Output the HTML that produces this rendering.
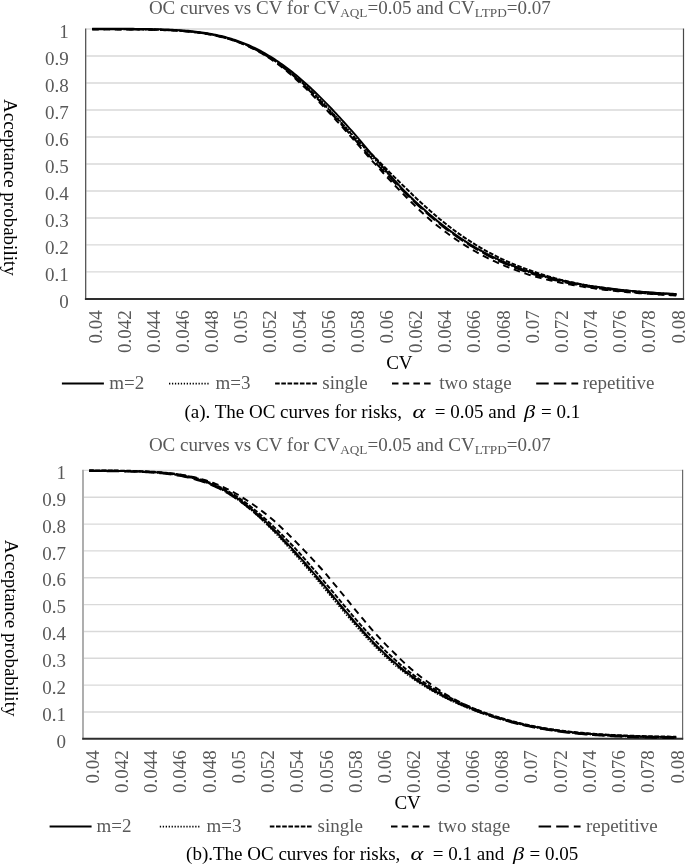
<!DOCTYPE html>
<html><head><meta charset="utf-8"><style>
html,body{margin:0;padding:0;background:#fff;}
svg{display:block;will-change:transform;}
text{font-family:"Liberation Serif", serif;font-size:19px;}
</style></head><body>
<svg width="685" height="865" viewBox="0 0 685 865">
<rect width="685" height="865" fill="#fff"/>
<line x1="86.3" y1="271.91" x2="682.9" y2="271.91" stroke="#d9d9d9" stroke-width="1.4"/>
<line x1="86.3" y1="244.92" x2="682.9" y2="244.92" stroke="#d9d9d9" stroke-width="1.4"/>
<line x1="86.3" y1="217.93" x2="682.9" y2="217.93" stroke="#d9d9d9" stroke-width="1.4"/>
<line x1="86.3" y1="190.94" x2="682.9" y2="190.94" stroke="#d9d9d9" stroke-width="1.4"/>
<line x1="86.3" y1="163.95" x2="682.9" y2="163.95" stroke="#d9d9d9" stroke-width="1.4"/>
<line x1="86.3" y1="136.96" x2="682.9" y2="136.96" stroke="#d9d9d9" stroke-width="1.4"/>
<line x1="86.3" y1="109.97" x2="682.9" y2="109.97" stroke="#d9d9d9" stroke-width="1.4"/>
<line x1="86.3" y1="82.98" x2="682.9" y2="82.98" stroke="#d9d9d9" stroke-width="1.4"/>
<line x1="86.3" y1="55.99" x2="682.9" y2="55.99" stroke="#d9d9d9" stroke-width="1.4"/>
<line x1="86.3" y1="29.00" x2="682.9" y2="29.00" stroke="#d9d9d9" stroke-width="1.4"/>
<line x1="85.7" y1="28.40" x2="85.7" y2="299.70" stroke="#484848" stroke-width="1.2"/>
<line x1="683.5" y1="28.40" x2="683.5" y2="299.70" stroke="#484848" stroke-width="1.2"/>
<line x1="84.9" y1="298.90" x2="684.1" y2="298.90" stroke="#2e2e2e" stroke-width="2"/>
<text x="68.8" y="307.50" text-anchor="end" fill="#595959">0</text>
<text x="68.8" y="280.51" text-anchor="end" fill="#595959">0.1</text>
<text x="68.8" y="253.52" text-anchor="end" fill="#595959">0.2</text>
<text x="68.8" y="226.53" text-anchor="end" fill="#595959">0.3</text>
<text x="68.8" y="199.54" text-anchor="end" fill="#595959">0.4</text>
<text x="68.8" y="172.55" text-anchor="end" fill="#595959">0.5</text>
<text x="68.8" y="145.56" text-anchor="end" fill="#595959">0.6</text>
<text x="68.8" y="118.57" text-anchor="end" fill="#595959">0.7</text>
<text x="68.8" y="91.58" text-anchor="end" fill="#595959">0.8</text>
<text x="68.8" y="64.59" text-anchor="end" fill="#595959">0.9</text>
<text x="68.8" y="37.60" text-anchor="end" fill="#595959">1</text>
<text transform="translate(101.50,310.3) rotate(-90)" text-anchor="end" fill="#595959">0.04</text>
<text transform="translate(130.65,310.3) rotate(-90)" text-anchor="end" fill="#595959">0.042</text>
<text transform="translate(159.80,310.3) rotate(-90)" text-anchor="end" fill="#595959">0.044</text>
<text transform="translate(188.95,310.3) rotate(-90)" text-anchor="end" fill="#595959">0.046</text>
<text transform="translate(218.10,310.3) rotate(-90)" text-anchor="end" fill="#595959">0.048</text>
<text transform="translate(247.25,310.3) rotate(-90)" text-anchor="end" fill="#595959">0.05</text>
<text transform="translate(276.40,310.3) rotate(-90)" text-anchor="end" fill="#595959">0.052</text>
<text transform="translate(305.55,310.3) rotate(-90)" text-anchor="end" fill="#595959">0.054</text>
<text transform="translate(334.70,310.3) rotate(-90)" text-anchor="end" fill="#595959">0.056</text>
<text transform="translate(363.85,310.3) rotate(-90)" text-anchor="end" fill="#595959">0.058</text>
<text transform="translate(393.00,310.3) rotate(-90)" text-anchor="end" fill="#595959">0.06</text>
<text transform="translate(422.15,310.3) rotate(-90)" text-anchor="end" fill="#595959">0.062</text>
<text transform="translate(451.30,310.3) rotate(-90)" text-anchor="end" fill="#595959">0.064</text>
<text transform="translate(480.45,310.3) rotate(-90)" text-anchor="end" fill="#595959">0.066</text>
<text transform="translate(509.60,310.3) rotate(-90)" text-anchor="end" fill="#595959">0.068</text>
<text transform="translate(538.75,310.3) rotate(-90)" text-anchor="end" fill="#595959">0.07</text>
<text transform="translate(567.90,310.3) rotate(-90)" text-anchor="end" fill="#595959">0.072</text>
<text transform="translate(597.05,310.3) rotate(-90)" text-anchor="end" fill="#595959">0.074</text>
<text transform="translate(626.20,310.3) rotate(-90)" text-anchor="end" fill="#595959">0.076</text>
<text transform="translate(655.35,310.3) rotate(-90)" text-anchor="end" fill="#595959">0.078</text>
<text transform="translate(684.50,310.3) rotate(-90)" text-anchor="end" fill="#595959">0.08</text>
<path d="M92.20,29.41 L94.15,29.41 L96.11,29.41 L98.06,29.41 L100.02,29.42 L101.97,29.42 L103.92,29.42 L105.88,29.42 L107.83,29.43 L109.79,29.43 L111.74,29.43 L113.69,29.44 L115.65,29.45 L117.60,29.45 L119.56,29.46 L121.51,29.47 L123.46,29.48 L125.42,29.49 L127.37,29.50 L129.33,29.51 L131.28,29.52 L133.23,29.54 L135.19,29.56 L137.14,29.57 L139.10,29.60 L141.05,29.62 L143.00,29.64 L144.96,29.67 L146.91,29.70 L148.86,29.74 L150.82,29.78 L152.77,29.82 L154.72,29.86 L156.68,29.91 L158.63,29.97 L160.58,30.02 L162.54,30.09 L164.49,30.16 L166.44,30.23 L168.40,30.32 L170.35,30.40 L172.30,30.50 L174.25,30.61 L176.21,30.72 L178.16,30.84 L180.11,30.97 L182.06,31.11 L184.01,31.26 L185.96,31.42 L187.92,31.59 L189.87,31.78 L191.82,31.98 L193.77,32.19 L195.72,32.41 L197.67,32.65 L199.62,32.91 L201.57,33.18 L203.52,33.47 L205.47,33.78 L207.42,34.10 L209.37,34.44 L211.32,34.81 L213.26,35.19 L215.21,35.59 L217.16,36.02 L219.11,36.47 L221.05,36.94 L223.00,37.43 L224.95,37.96 L226.89,38.50 L228.84,39.07 L230.78,39.67 L232.73,40.30 L234.67,40.95 L236.62,41.63 L238.56,42.34 L240.50,43.09 L242.44,43.87 L244.38,44.68 L246.31,45.53 L248.25,46.40 L250.18,47.31 L252.12,48.25 L254.05,49.23 L255.98,50.24 L257.91,51.28 L259.84,52.36 L261.77,53.47 L263.70,54.61 L265.62,55.79 L267.55,57.00 L269.47,58.26 L271.38,59.55 L273.30,60.88 L275.22,62.24 L277.13,63.63 L279.04,65.06 L280.95,66.52 L282.86,68.02 L284.77,69.55 L286.68,71.11 L288.58,72.71 L290.49,74.34 L292.39,75.99 L294.30,77.69 L296.20,79.41 L298.10,81.16 L300.00,82.94 L301.90,84.74 L303.82,86.56 L305.74,88.40 L307.66,90.27 L309.58,92.16 L311.50,94.08 L313.42,96.02 L315.34,97.98 L317.26,99.97 L319.18,101.98 L321.10,104.01 L323.02,106.06 L324.94,108.13 L326.86,110.21 L328.78,112.30 L330.73,114.39 L332.68,116.50 L334.63,118.62 L336.58,120.75 L338.53,122.89 L340.48,125.04 L342.43,127.20 L344.38,129.37 L346.34,131.54 L348.29,133.72 L350.24,135.91 L352.19,138.09 L354.13,140.30 L356.07,142.51 L358.01,144.72 L359.94,146.93 L361.88,149.13 L363.82,151.34 L365.76,153.54 L367.69,155.74 L369.63,157.93 L371.57,160.11 L373.51,162.29 L375.45,164.46 L377.39,166.62 L379.34,168.77 L381.29,170.91 L383.24,173.03 L385.19,175.14 L387.14,177.24 L389.09,179.33 L391.04,181.40 L392.99,183.46 L394.94,185.50 L396.89,187.52 L398.84,189.53 L400.80,191.53 L402.74,193.51 L404.67,195.49 L406.59,197.46 L408.52,199.41 L410.45,201.34 L412.38,203.25 L414.31,205.14 L416.24,207.00 L418.17,208.85 L420.11,210.68 L422.04,212.48 L423.98,214.26 L425.92,216.02 L427.86,217.76 L429.80,219.47 L431.75,221.16 L433.73,222.78 L435.72,224.38 L437.70,225.96 L439.68,227.51 L441.66,229.04 L443.65,230.55 L445.63,232.04 L447.61,233.50 L449.60,234.94 L451.58,236.35 L453.57,237.74 L455.55,239.11 L457.53,240.46 L459.52,241.78 L461.50,243.08 L463.48,244.36 L465.47,245.62 L467.45,246.85 L469.44,248.06 L471.43,249.23 L473.42,250.39 L475.41,251.52 L477.41,252.63 L479.40,253.71 L481.39,254.78 L483.38,255.83 L485.37,256.85 L487.36,257.86 L489.35,258.84 L491.33,259.81 L493.32,260.75 L495.31,261.68 L497.29,262.58 L499.28,263.47 L501.27,264.34 L503.25,265.19 L505.23,266.03 L507.22,266.84 L509.20,267.64 L511.18,268.42 L513.17,269.18 L515.15,269.93 L517.13,270.66 L519.11,271.38 L521.09,272.08 L523.07,272.76 L525.05,273.43 L527.03,274.08 L529.01,274.72 L530.99,275.31 L532.98,275.89 L534.96,276.46 L536.95,277.01 L538.93,277.55 L540.91,278.07 L542.89,278.59 L544.87,279.09 L546.85,279.58 L548.83,280.06 L550.81,280.53 L552.79,280.98 L554.76,281.43 L556.74,281.86 L558.71,282.29 L560.68,282.70 L562.66,283.10 L564.63,283.50 L566.60,283.88 L568.57,284.26 L570.54,284.63 L572.51,284.98 L574.48,285.33 L576.45,285.67 L578.42,286.01 L580.38,286.33 L582.35,286.65 L584.32,286.95 L586.28,287.25 L588.25,287.55 L590.21,287.84 L592.18,288.12 L594.14,288.40 L596.11,288.67 L598.07,288.93 L600.03,289.19 L601.99,289.43 L603.96,289.68 L605.92,289.92 L607.88,290.15 L609.84,290.37 L611.80,290.59 L613.76,290.81 L615.72,291.02 L617.68,291.22 L619.64,291.42 L621.60,291.61 L623.56,291.80 L625.52,291.99 L627.48,292.17 L629.44,292.34 L631.40,292.52 L633.36,292.68 L635.32,292.85 L637.28,293.00 L639.24,293.16 L641.19,293.31 L643.15,293.46 L645.11,293.60 L647.07,293.74 L649.03,293.88 L650.98,294.01 L652.94,294.14 L654.90,294.27 L656.86,294.39 L658.81,294.51 L660.77,294.63 L662.73,294.75 L664.68,294.86 L666.64,294.97 L668.60,295.07 L670.55,295.18 L672.51,295.28 L674.47,295.38 L676.42,295.48" fill="none" stroke="#000" stroke-width="1.95" stroke-linejoin="round" stroke-dasharray="6.6 4.7"/>
<path d="M92.20,29.31 L94.15,29.31 L96.11,29.31 L98.06,29.31 L100.02,29.32 L101.97,29.32 L103.92,29.32 L105.88,29.32 L107.83,29.33 L109.79,29.33 L111.74,29.33 L113.70,29.34 L115.65,29.35 L117.60,29.35 L119.56,29.36 L121.51,29.37 L123.47,29.38 L125.42,29.38 L127.37,29.40 L129.33,29.41 L131.28,29.42 L133.24,29.44 L135.19,29.45 L137.14,29.47 L139.10,29.49 L141.05,29.52 L143.00,29.54 L144.96,29.57 L146.91,29.60 L148.87,29.64 L150.82,29.67 L152.77,29.71 L154.73,29.76 L156.68,29.81 L158.63,29.86 L160.59,29.92 L162.54,29.98 L164.49,30.05 L166.45,30.13 L168.40,30.21 L170.35,30.30 L172.31,30.39 L174.26,30.50 L176.21,30.61 L178.16,30.73 L180.12,30.86 L182.07,31.00 L184.02,31.15 L185.97,31.31 L187.93,31.48 L189.88,31.66 L191.83,31.86 L193.78,32.07 L195.73,32.29 L197.69,32.53 L199.64,32.78 L201.59,33.05 L203.54,33.34 L205.49,33.65 L207.44,33.97 L209.39,34.31 L211.34,34.67 L213.29,35.05 L215.24,35.45 L217.19,35.87 L219.14,36.32 L221.09,36.79 L223.04,37.28 L224.99,37.80 L226.94,38.34 L228.89,38.91 L230.84,39.50 L232.78,40.13 L234.73,40.78 L236.68,41.45 L238.63,42.16 L240.57,42.90 L242.52,43.67 L244.46,44.47 L246.41,45.31 L248.35,46.18 L250.29,47.07 L252.24,48.01 L254.18,48.97 L256.12,49.97 L258.06,51.00 L260.00,52.06 L261.94,53.16 L263.88,54.29 L265.82,55.46 L267.76,56.66 L269.70,57.90 L271.64,59.17 L273.57,60.47 L275.51,61.81 L277.44,63.18 L279.38,64.59 L281.32,66.03 L283.25,67.51 L285.18,69.01 L287.12,70.55 L289.05,72.13 L290.98,73.73 L292.92,75.37 L294.85,77.04 L296.78,78.73 L298.71,80.46 L300.64,82.22 L302.57,84.01 L304.50,85.83 L306.42,87.67 L308.35,89.54 L310.27,91.44 L312.20,93.36 L314.12,95.31 L316.05,97.28 L317.97,99.27 L319.89,101.28 L321.82,103.32 L323.74,105.37 L325.66,107.44 L327.58,109.53 L329.51,111.62 L331.47,113.71 L333.42,115.82 L335.37,117.94 L337.32,120.07 L339.27,122.21 L341.22,124.37 L343.18,126.53 L345.13,128.70 L347.08,130.87 L349.03,133.05 L350.99,135.24 L352.94,137.43 L354.89,139.62 L356.85,141.81 L358.80,144.01 L360.76,146.20 L362.71,148.39 L364.67,150.58 L366.62,152.76 L368.58,154.94 L370.53,157.12 L372.49,159.29 L374.45,161.45 L376.40,163.60 L378.37,165.73 L380.35,167.84 L382.34,169.93 L384.33,172.02 L386.31,174.09 L388.30,176.15 L390.28,178.19 L392.27,180.23 L394.25,182.24 L396.23,184.24 L398.22,186.23 L400.20,188.19 L402.19,190.14 L404.16,192.08 L406.12,194.02 L408.08,195.94 L410.04,197.84 L411.99,199.72 L413.95,201.58 L415.91,203.42 L417.87,205.24 L419.83,207.04 L421.79,208.81 L423.75,210.57 L425.70,212.30 L427.66,214.01 L429.62,215.70 L431.58,217.36 L433.54,219.01 L435.50,220.63 L437.46,222.22 L439.42,223.80 L441.38,225.35 L443.34,226.88 L445.30,228.38 L447.26,229.86 L449.22,231.32 L451.18,232.75 L453.14,234.17 L455.10,235.55 L457.06,236.92 L459.02,238.26 L460.99,239.58 L462.95,240.88 L464.91,242.15 L466.87,243.41 L468.83,244.63 L470.79,245.84 L472.75,247.04 L474.70,248.21 L476.66,249.36 L478.62,250.48 L480.58,251.59 L482.53,252.67 L484.49,253.74 L486.45,254.78 L488.41,255.80 L490.37,256.81 L492.33,257.79 L494.29,258.75 L496.24,259.70 L498.20,260.62 L500.16,261.53 L502.12,262.41 L504.08,263.28 L506.04,264.13 L508.00,264.96 L509.96,265.78 L511.92,266.57 L513.88,267.35 L515.84,268.12 L517.80,268.86 L519.76,269.59 L521.72,270.30 L523.68,271.00 L525.64,271.68 L527.60,272.35 L529.56,273.00 L531.53,273.64 L533.49,274.26 L535.45,274.86 L537.41,275.45 L539.37,276.03 L541.33,276.59 L543.29,277.14 L545.26,277.68 L547.22,278.21 L549.18,278.72 L551.14,279.22 L553.10,279.71 L555.06,280.19 L557.02,280.66 L558.98,281.11 L560.94,281.56 L562.90,281.99 L564.86,282.42 L566.82,282.83 L568.78,283.23 L570.74,283.63 L572.70,284.01 L574.66,284.39 L576.62,284.75 L578.58,285.11 L580.54,285.46 L582.50,285.80 L584.46,286.13 L586.41,286.45 L588.37,286.77 L590.33,287.08 L592.29,287.39 L594.25,287.69 L596.20,287.98 L598.16,288.26 L600.12,288.53 L602.08,288.80 L604.04,289.06 L605.99,289.32 L607.95,289.57 L609.91,289.81 L611.87,290.05 L613.82,290.28 L615.78,290.51 L617.74,290.73 L619.70,290.94 L621.65,291.15 L623.61,291.35 L625.57,291.55 L627.52,291.75 L629.48,291.94 L631.44,292.12 L633.39,292.30 L635.35,292.48 L637.31,292.65 L639.26,292.82 L641.22,292.98 L643.18,293.14 L645.13,293.29 L647.09,293.44 L649.05,293.59 L651.00,293.74 L652.96,293.88 L654.92,294.01 L656.87,294.15 L658.83,294.28 L660.78,294.40 L662.74,294.53 L664.70,294.65 L666.65,294.77 L668.61,294.88 L670.56,294.99 L672.52,295.10 L674.48,295.21 L676.43,295.32" fill="none" stroke="#000" stroke-width="1.95" stroke-linejoin="round" stroke-dasharray="12.5 5"/>
<path d="M92.20,29.11 L94.15,29.11 L96.11,29.11 L98.06,29.11 L100.02,29.12 L101.97,29.12 L103.92,29.12 L105.88,29.12 L107.83,29.13 L109.79,29.13 L111.74,29.13 L113.70,29.14 L115.65,29.15 L117.60,29.15 L119.56,29.16 L121.51,29.17 L123.47,29.18 L125.42,29.18 L127.37,29.20 L129.33,29.21 L131.28,29.22 L133.24,29.24 L135.19,29.25 L137.15,29.27 L139.10,29.29 L141.05,29.32 L143.01,29.34 L144.96,29.37 L146.92,29.40 L148.87,29.44 L150.82,29.47 L152.78,29.51 L154.73,29.56 L156.69,29.61 L158.64,29.66 L160.59,29.72 L162.55,29.78 L164.50,29.85 L166.45,29.93 L168.41,30.01 L170.36,30.10 L172.32,30.19 L174.27,30.30 L176.22,30.41 L178.18,30.53 L180.13,30.66 L182.08,30.80 L184.04,30.95 L185.99,31.11 L187.94,31.28 L189.90,31.46 L191.85,31.66 L193.80,31.87 L195.76,32.09 L197.71,32.33 L199.66,32.59 L201.62,32.86 L203.57,33.14 L205.52,33.45 L207.47,33.77 L209.43,34.11 L211.38,34.47 L213.33,34.85 L215.28,35.25 L217.24,35.68 L219.19,36.12 L221.14,36.59 L223.09,37.09 L225.04,37.61 L226.99,38.15 L228.94,38.72 L230.89,39.31 L232.85,39.94 L234.80,40.59 L236.75,41.27 L238.70,41.97 L240.65,42.71 L242.60,43.47 L244.55,44.27 L246.50,45.09 L248.45,45.95 L250.40,46.84 L252.36,47.76 L254.31,48.71 L256.26,49.70 L258.21,50.72 L260.16,51.77 L262.12,52.85 L264.07,53.98 L266.02,55.13 L267.97,56.32 L269.92,57.55 L271.87,58.81 L273.82,60.10 L275.77,61.43 L277.72,62.80 L279.67,64.20 L281.62,65.63 L283.56,67.09 L285.51,68.59 L287.46,70.12 L289.41,71.68 L291.36,73.28 L293.31,74.90 L295.26,76.56 L297.20,78.25 L299.15,79.97 L301.10,81.71 L303.05,83.49 L304.99,85.30 L306.93,87.13 L308.88,88.99 L310.82,90.88 L312.76,92.79 L314.71,94.72 L316.65,96.68 L318.59,98.66 L320.53,100.66 L322.47,102.68 L324.42,104.72 L326.36,106.78 L328.30,108.85 L330.24,110.94 L332.20,113.03 L334.15,115.14 L336.10,117.26 L338.06,119.40 L340.01,121.54 L341.96,123.70 L343.92,125.86 L345.87,128.03 L347.83,130.21 L349.78,132.39 L351.73,134.57 L353.69,136.76 L355.76,138.85 L357.86,140.91 L359.97,142.97 L362.07,145.03 L364.18,147.08 L366.28,149.13 L368.39,151.18 L370.49,153.22 L372.59,155.26 L374.70,157.29 L376.80,159.31 L378.90,161.33 L380.96,163.36 L382.97,165.43 L384.98,167.49 L386.99,169.55 L388.99,171.58 L391.00,173.61 L393.00,175.62 L395.00,177.61 L397.01,179.59 L399.01,181.55 L401.01,183.50 L403.00,185.43 L405.00,187.34 L406.98,189.24 L408.93,191.17 L410.87,193.07 L412.82,194.96 L414.76,196.83 L416.70,198.67 L418.64,200.50 L420.58,202.30 L422.52,204.08 L424.47,205.84 L426.41,207.58 L428.35,209.30 L430.28,210.99 L432.22,212.66 L434.16,214.31 L436.10,215.94 L438.02,217.56 L439.94,219.16 L441.86,220.74 L443.78,222.30 L445.70,223.83 L447.62,225.34 L449.54,226.83 L451.46,228.29 L453.38,229.73 L455.30,231.14 L457.22,232.54 L459.15,233.91 L461.07,235.25 L462.99,236.58 L464.91,237.88 L466.84,239.15 L468.76,240.41 L470.69,241.64 L472.61,242.86 L474.53,244.06 L476.44,245.25 L478.36,246.41 L480.27,247.56 L482.19,248.68 L484.11,249.78 L486.03,250.86 L487.95,251.91 L489.87,252.95 L491.79,253.97 L493.72,254.97 L495.64,255.94 L497.57,256.90 L499.49,257.84 L501.42,258.76 L503.34,259.66 L505.27,260.54 L507.20,261.41 L509.13,262.25 L511.06,263.08 L512.99,263.89 L514.92,264.68 L516.86,265.46 L518.79,266.22 L520.72,266.96 L522.66,267.69 L524.59,268.40 L526.53,269.09 L528.47,269.77 L530.40,270.44 L532.33,271.13 L534.25,271.81 L536.18,272.47 L538.11,273.12 L540.03,273.75 L541.96,274.37 L543.90,274.98 L545.83,275.57 L547.76,276.15 L549.70,276.72 L551.63,277.27 L553.57,277.81 L555.51,278.33 L557.45,278.85 L559.39,279.35 L561.33,279.84 L563.27,280.32 L565.21,280.79 L567.15,281.25 L569.09,281.69 L571.04,282.13 L572.98,282.55 L574.93,282.97 L576.87,283.37 L578.82,283.77 L580.77,284.15 L582.71,284.53 L584.66,284.90 L586.61,285.26 L588.56,285.59 L590.51,285.91 L592.47,286.22 L594.42,286.53 L596.37,286.82 L598.32,287.11 L600.28,287.39 L602.23,287.67 L604.18,287.93 L606.14,288.20 L608.09,288.45 L610.04,288.70 L612.00,288.94 L613.95,289.18 L615.90,289.41 L617.86,289.63 L619.81,289.85 L621.77,290.07 L623.72,290.28 L625.67,290.48 L627.63,290.68 L629.58,290.87 L631.54,291.06 L633.49,291.25 L635.44,291.43 L637.40,291.60 L639.35,291.77 L641.31,291.94 L643.26,292.10 L645.21,292.26 L647.17,292.41 L649.12,292.56 L651.08,292.71 L653.03,292.86 L654.99,293.00 L656.94,293.13 L658.89,293.27 L660.85,293.40 L662.80,293.52 L664.76,293.65 L666.71,293.77 L668.67,293.88 L670.62,293.99 L672.57,294.10 L674.53,294.21 L676.48,294.32" fill="none" stroke="#000" stroke-width="1.95" stroke-linejoin="round" stroke-dasharray="4.6 1.6"/>
<path d="M92.20,29.01 L94.15,29.01 L96.11,29.01 L98.06,29.01 L100.02,29.01 L101.97,29.02 L103.93,29.02 L105.88,29.02 L107.83,29.03 L109.79,29.03 L111.74,29.03 L113.70,29.04 L115.65,29.04 L117.60,29.05 L119.56,29.06 L121.51,29.07 L123.47,29.07 L125.42,29.08 L127.38,29.10 L129.33,29.11 L131.28,29.12 L133.24,29.14 L135.19,29.15 L137.15,29.17 L139.10,29.19 L141.05,29.22 L143.01,29.24 L144.96,29.27 L146.92,29.30 L148.87,29.33 L150.83,29.37 L152.78,29.41 L154.73,29.46 L156.69,29.50 L158.64,29.56 L160.60,29.62 L162.55,29.68 L164.50,29.75 L166.46,29.82 L168.41,29.90 L170.37,29.99 L172.32,30.09 L174.28,30.19 L176.23,30.30 L178.18,30.42 L180.14,30.55 L182.09,30.68 L184.05,30.83 L186.00,30.99 L187.95,31.16 L189.91,31.35 L191.86,31.54 L193.82,31.75 L195.77,31.97 L197.73,32.21 L199.68,32.46 L201.63,32.73 L203.59,33.01 L205.54,33.32 L207.50,33.64 L209.45,33.98 L211.41,34.33 L213.36,34.71 L215.31,35.11 L217.27,35.53 L219.22,35.98 L221.18,36.44 L223.13,36.93 L225.08,37.45 L227.04,37.99 L228.99,38.55 L230.95,39.15 L232.90,39.76 L234.86,40.41 L236.81,41.09 L238.76,41.79 L240.72,42.52 L242.67,43.29 L244.63,44.08 L246.58,44.91 L248.53,45.77 L250.49,46.66 L252.44,47.58 L254.40,48.53 L256.35,49.52 L258.31,50.54 L260.26,51.59 L262.21,52.68 L264.17,53.80 L266.12,54.96 L268.08,56.15 L270.03,57.37 L271.98,58.63 L273.94,59.93 L275.89,61.25 L277.85,62.61 L279.80,64.01 L281.76,65.44 L283.71,66.90 L285.66,68.39 L287.62,69.92 L289.57,71.48 L291.53,73.07 L293.48,74.70 L295.43,76.35 L297.39,78.04 L299.34,79.75 L301.30,81.49 L303.25,83.26 L305.21,85.06 L307.16,86.89 L309.11,88.74 L311.07,90.62 L313.02,92.52 L314.98,94.45 L316.93,96.40 L318.88,98.37 L320.84,100.36 L322.79,102.37 L324.75,104.40 L326.70,106.45 L328.66,108.52 L330.61,110.60 L332.56,112.69 L334.52,114.80 L336.47,116.93 L338.43,119.06 L340.38,121.21 L342.34,123.36 L344.29,125.52 L346.24,127.69 L348.20,129.87 L350.15,132.05 L352.11,134.24 L354.06,136.43 L356.01,138.62 L357.97,140.82 L359.92,143.01 L361.88,145.20 L363.83,147.39 L365.79,149.58 L367.74,151.76 L369.69,153.94 L371.65,156.11 L373.60,158.28 L375.56,160.44 L377.51,162.59 L379.45,164.74 L381.38,166.90 L383.30,169.04 L385.23,171.18 L387.16,173.30 L389.08,175.41 L391.01,177.50 L392.94,179.58 L394.86,181.65 L396.79,183.70 L398.72,185.73 L400.65,187.75 L402.58,189.75 L404.52,191.73 L406.47,193.66 L408.43,195.58 L410.38,197.48 L412.34,199.36 L414.30,201.22 L416.25,203.05 L418.21,204.87 L420.17,206.67 L422.12,208.44 L424.08,210.19 L426.03,211.92 L427.99,213.63 L429.95,215.32 L431.90,216.98 L433.86,218.62 L435.82,220.24 L437.78,221.84 L439.73,223.41 L441.69,224.96 L443.65,226.48 L445.60,227.98 L447.56,229.46 L449.52,230.92 L451.48,232.35 L453.43,233.76 L455.39,235.15 L457.35,236.51 L459.31,237.85 L461.26,239.17 L463.22,240.46 L465.18,241.73 L467.14,242.98 L469.09,244.21 L471.05,245.42 L473.01,246.60 L474.96,247.77 L476.92,248.91 L478.87,250.03 L480.83,251.13 L482.79,252.21 L484.74,253.27 L486.70,254.31 L488.65,255.33 L490.61,256.32 L492.57,257.30 L494.52,258.26 L496.48,259.20 L498.44,260.12 L500.39,261.02 L502.35,261.90 L504.31,262.76 L506.26,263.61 L508.22,264.44 L510.18,265.25 L512.14,266.04 L514.09,266.81 L516.05,267.57 L518.01,268.31 L519.96,269.04 L521.92,269.75 L523.88,270.44 L525.84,271.12 L527.79,271.79 L529.75,272.43 L531.71,273.07 L533.66,273.70 L535.62,274.31 L537.57,274.91 L539.53,275.50 L541.48,276.07 L543.44,276.62 L545.39,277.17 L547.35,277.70 L549.31,278.22 L551.26,278.73 L553.22,279.22 L555.18,279.71 L557.13,280.18 L559.09,280.64 L561.04,281.09 L563.00,281.53 L564.96,281.96 L566.91,282.38 L568.87,282.79 L570.83,283.19 L572.78,283.58 L574.74,283.96 L576.70,284.33 L578.65,284.70 L580.61,285.05 L582.57,285.39 L584.52,285.73 L586.48,286.06 L588.44,286.38 L590.39,286.68 L592.35,286.98 L594.31,287.28 L596.26,287.56 L598.22,287.84 L600.18,288.11 L602.13,288.38 L604.09,288.64 L606.05,288.89 L608.01,289.14 L609.96,289.38 L611.92,289.61 L613.87,289.84 L615.83,290.06 L617.79,290.28 L619.74,290.49 L621.70,290.70 L623.66,290.90 L625.61,291.10 L627.57,291.29 L629.52,291.47 L631.48,291.66 L633.44,291.83 L635.39,292.01 L637.35,292.18 L639.30,292.34 L641.26,292.50 L643.22,292.66 L645.17,292.81 L647.13,292.96 L649.08,293.11 L651.04,293.25 L652.99,293.39 L654.95,293.52 L656.91,293.65 L658.86,293.78 L660.82,293.91 L662.77,294.03 L664.73,294.15 L666.68,294.27 L668.64,294.38 L670.59,294.49 L672.55,294.60 L674.50,294.70 L676.46,294.81" fill="none" stroke="#000" stroke-width="1.6" stroke-linejoin="round" stroke-dasharray="1.4 1.55"/>
<path d="M92.20,28.71 L94.15,28.71 L96.11,28.71 L98.06,28.71 L100.02,28.71 L101.97,28.72 L103.93,28.72 L105.88,28.72 L107.83,28.73 L109.79,28.73 L111.74,28.73 L113.70,28.74 L115.65,28.74 L117.61,28.75 L119.56,28.76 L121.51,28.76 L123.47,28.77 L125.42,28.78 L127.38,28.79 L129.33,28.81 L131.29,28.82 L133.24,28.83 L135.19,28.85 L137.15,28.87 L139.10,28.89 L141.06,28.91 L143.01,28.94 L144.97,28.96 L146.92,29.00 L148.88,29.03 L150.83,29.07 L152.79,29.11 L154.74,29.15 L156.70,29.20 L158.65,29.25 L160.61,29.31 L162.56,29.37 L164.52,29.44 L166.47,29.51 L168.43,29.59 L170.38,29.68 L172.34,29.77 L174.29,29.87 L176.25,29.98 L178.20,30.10 L180.16,30.22 L182.12,30.36 L184.07,30.51 L186.03,30.66 L187.98,30.83 L189.94,31.01 L191.90,31.21 L193.85,31.41 L195.81,31.63 L197.77,31.86 L199.73,32.11 L201.68,32.38 L203.64,32.66 L205.60,32.96 L207.56,33.27 L209.52,33.61 L211.48,33.96 L213.43,34.34 L215.39,34.73 L217.35,35.15 L219.31,35.58 L221.27,36.04 L223.23,36.53 L225.20,37.04 L227.16,37.57 L229.12,38.13 L231.08,38.72 L233.04,39.33 L235.01,39.97 L236.97,40.64 L238.93,41.33 L240.90,42.06 L242.86,42.81 L244.83,43.59 L246.80,44.40 L248.77,45.24 L250.74,46.12 L252.71,47.02 L254.68,47.96 L256.65,48.93 L258.62,49.94 L260.60,50.98 L262.57,52.05 L264.55,53.15 L266.52,54.29 L268.50,55.47 L270.48,56.67 L272.46,57.91 L274.44,59.18 L276.42,60.48 L278.41,61.82 L280.39,63.19 L282.38,64.60 L284.36,66.04 L286.35,67.51 L288.34,69.01 L290.33,70.55 L292.32,72.11 L294.31,73.71 L296.30,75.34 L298.29,77.00 L300.28,78.69 L302.27,80.41 L304.27,82.15 L306.25,83.94 L308.24,85.74 L310.22,87.58 L312.21,89.44 L314.20,91.32 L316.18,93.23 L318.17,95.16 L320.16,97.11 L322.14,99.09 L324.13,101.08 L326.12,103.09 L328.10,105.12 L330.09,107.16 L332.07,109.23 L334.03,111.33 L335.99,113.45 L337.95,115.57 L339.90,117.71 L341.86,119.86 L343.82,122.02 L345.77,124.18 L347.73,126.36 L349.69,128.54 L351.64,130.72 L353.60,132.91 L355.55,135.10 L357.46,137.33 L359.36,139.58 L361.25,141.83 L363.14,144.07 L365.03,146.32 L366.93,148.56 L368.82,150.79 L370.71,153.02 L372.61,155.25 L374.50,157.47 L376.39,159.68 L378.29,161.88 L380.18,164.07 L382.08,166.26 L383.97,168.43 L385.87,170.59 L387.76,172.73 L389.66,174.87 L391.56,176.99 L393.45,179.09 L395.35,181.18 L397.25,183.26 L399.15,185.31 L401.05,187.35 L402.95,189.38 L404.87,191.37 L406.82,193.31 L408.78,195.22 L410.73,197.12 L412.69,199.00 L414.64,200.85 L416.59,202.69 L418.55,204.50 L420.50,206.30 L422.46,208.07 L424.41,209.82 L426.36,211.55 L428.32,213.26 L430.27,214.94 L432.23,216.60 L434.18,218.24 L436.14,219.85 L438.09,221.45 L440.04,223.02 L442.00,224.56 L443.95,226.09 L445.91,227.58 L447.86,229.06 L449.82,230.52 L451.77,231.95 L453.72,233.35 L455.68,234.74 L457.63,236.10 L459.59,237.44 L461.54,238.75 L463.49,240.04 L465.45,241.31 L467.40,242.56 L469.36,243.79 L471.31,244.99 L473.27,246.17 L475.22,247.33 L477.17,248.47 L479.13,249.58 L481.08,250.68 L483.04,251.75 L484.99,252.80 L486.94,253.84 L488.90,254.85 L490.85,255.84 L492.81,256.81 L494.76,257.77 L496.72,258.70 L498.67,259.61 L500.62,260.51 L502.58,261.39 L504.53,262.25 L506.49,263.09 L508.44,263.91 L510.39,264.71 L512.35,265.50 L514.30,266.27 L516.26,267.03 L518.21,267.77 L520.17,268.49 L522.12,269.19 L524.07,269.88 L526.03,270.56 L527.98,271.22 L529.94,271.86 L531.89,272.49 L533.84,273.11 L535.80,273.71 L537.75,274.30 L539.71,274.88 L541.66,275.44 L543.62,275.99 L545.57,276.52 L547.52,277.05 L549.48,277.56 L551.43,278.06 L553.39,278.55 L555.34,279.02 L557.29,279.49 L559.25,279.94 L561.20,280.39 L563.16,280.82 L565.11,281.24 L567.07,281.65 L569.02,282.06 L570.97,282.45 L572.93,282.83 L574.88,283.21 L576.84,283.57 L578.79,283.93 L580.75,284.28 L582.70,284.62 L584.65,284.95 L586.61,285.27 L588.56,285.59 L590.52,285.89 L592.47,286.19 L594.42,286.49 L596.38,286.77 L598.33,287.05 L600.29,287.32 L602.24,287.59 L604.20,287.84 L606.15,288.10 L608.10,288.34 L610.06,288.58 L612.01,288.82 L613.97,289.04 L615.92,289.27 L617.87,289.48 L619.83,289.70 L621.78,289.90 L623.74,290.10 L625.69,290.30 L627.65,290.49 L629.60,290.68 L631.55,290.86 L633.51,291.04 L635.46,291.21 L637.42,291.38 L639.37,291.54 L641.32,291.71 L643.28,291.86 L645.23,292.01 L647.19,292.16 L649.14,292.31 L651.10,292.45 L653.05,292.59 L655.00,292.72 L656.96,292.86 L658.91,292.98 L660.87,293.11 L662.82,293.23 L664.77,293.35 L666.73,293.47 L668.68,293.58 L670.64,293.69 L672.59,293.80 L674.55,293.91 L676.50,294.01" fill="none" stroke="#000" stroke-width="1.95" stroke-linejoin="round"/>
<line x1="83.6" y1="711.96" x2="682.0" y2="711.96" stroke="#d9d9d9" stroke-width="1.4"/>
<line x1="83.6" y1="685.12" x2="682.0" y2="685.12" stroke="#d9d9d9" stroke-width="1.4"/>
<line x1="83.6" y1="658.28" x2="682.0" y2="658.28" stroke="#d9d9d9" stroke-width="1.4"/>
<line x1="83.6" y1="631.44" x2="682.0" y2="631.44" stroke="#d9d9d9" stroke-width="1.4"/>
<line x1="83.6" y1="604.60" x2="682.0" y2="604.60" stroke="#d9d9d9" stroke-width="1.4"/>
<line x1="83.6" y1="577.76" x2="682.0" y2="577.76" stroke="#d9d9d9" stroke-width="1.4"/>
<line x1="83.6" y1="550.92" x2="682.0" y2="550.92" stroke="#d9d9d9" stroke-width="1.4"/>
<line x1="83.6" y1="524.08" x2="682.0" y2="524.08" stroke="#d9d9d9" stroke-width="1.4"/>
<line x1="83.6" y1="497.24" x2="682.0" y2="497.24" stroke="#d9d9d9" stroke-width="1.4"/>
<line x1="83.6" y1="470.40" x2="682.0" y2="470.40" stroke="#d9d9d9" stroke-width="1.4"/>
<line x1="83.0" y1="469.80" x2="83.0" y2="739.60" stroke="#a6a6a6" stroke-width="1.8"/>
<line x1="682.6" y1="469.80" x2="682.6" y2="739.60" stroke="#6a6a6a" stroke-width="1.2"/>
<line x1="82.2" y1="738.80" x2="683.2" y2="738.80" stroke="#2e2e2e" stroke-width="2"/>
<text x="66.0" y="747.50" text-anchor="end" fill="#595959">0</text>
<text x="66.0" y="720.66" text-anchor="end" fill="#595959">0.1</text>
<text x="66.0" y="693.82" text-anchor="end" fill="#595959">0.2</text>
<text x="66.0" y="666.98" text-anchor="end" fill="#595959">0.3</text>
<text x="66.0" y="640.14" text-anchor="end" fill="#595959">0.4</text>
<text x="66.0" y="613.30" text-anchor="end" fill="#595959">0.5</text>
<text x="66.0" y="586.46" text-anchor="end" fill="#595959">0.6</text>
<text x="66.0" y="559.62" text-anchor="end" fill="#595959">0.7</text>
<text x="66.0" y="532.78" text-anchor="end" fill="#595959">0.8</text>
<text x="66.0" y="505.94" text-anchor="end" fill="#595959">0.9</text>
<text x="66.0" y="479.10" text-anchor="end" fill="#595959">1</text>
<text transform="translate(98.70,750.3) rotate(-90)" text-anchor="end" fill="#595959">0.04</text>
<text transform="translate(127.95,750.3) rotate(-90)" text-anchor="end" fill="#595959">0.042</text>
<text transform="translate(157.20,750.3) rotate(-90)" text-anchor="end" fill="#595959">0.044</text>
<text transform="translate(186.45,750.3) rotate(-90)" text-anchor="end" fill="#595959">0.046</text>
<text transform="translate(215.70,750.3) rotate(-90)" text-anchor="end" fill="#595959">0.048</text>
<text transform="translate(244.95,750.3) rotate(-90)" text-anchor="end" fill="#595959">0.05</text>
<text transform="translate(274.20,750.3) rotate(-90)" text-anchor="end" fill="#595959">0.052</text>
<text transform="translate(303.45,750.3) rotate(-90)" text-anchor="end" fill="#595959">0.054</text>
<text transform="translate(332.70,750.3) rotate(-90)" text-anchor="end" fill="#595959">0.056</text>
<text transform="translate(361.95,750.3) rotate(-90)" text-anchor="end" fill="#595959">0.058</text>
<text transform="translate(391.20,750.3) rotate(-90)" text-anchor="end" fill="#595959">0.06</text>
<text transform="translate(420.45,750.3) rotate(-90)" text-anchor="end" fill="#595959">0.062</text>
<text transform="translate(449.70,750.3) rotate(-90)" text-anchor="end" fill="#595959">0.064</text>
<text transform="translate(478.95,750.3) rotate(-90)" text-anchor="end" fill="#595959">0.066</text>
<text transform="translate(508.20,750.3) rotate(-90)" text-anchor="end" fill="#595959">0.068</text>
<text transform="translate(537.45,750.3) rotate(-90)" text-anchor="end" fill="#595959">0.07</text>
<text transform="translate(566.70,750.3) rotate(-90)" text-anchor="end" fill="#595959">0.072</text>
<text transform="translate(595.95,750.3) rotate(-90)" text-anchor="end" fill="#595959">0.074</text>
<text transform="translate(625.20,750.3) rotate(-90)" text-anchor="end" fill="#595959">0.076</text>
<text transform="translate(654.45,750.3) rotate(-90)" text-anchor="end" fill="#595959">0.078</text>
<text transform="translate(683.70,750.3) rotate(-90)" text-anchor="end" fill="#595959">0.08</text>
<path d="M89.20,470.60 L91.16,470.61 L93.13,470.62 L95.09,470.63 L97.05,470.64 L99.02,470.65 L100.98,470.66 L102.94,470.68 L104.91,470.69 L106.87,470.71 L108.83,470.73 L110.80,470.75 L112.76,470.77 L114.72,470.79 L116.69,470.82 L118.65,470.85 L120.61,470.88 L122.58,470.91 L124.54,470.94 L126.50,470.98 L128.47,471.02 L130.43,471.07 L132.39,471.11 L134.36,471.17 L136.32,471.22 L138.28,471.28 L140.25,471.35 L142.21,471.42 L144.18,471.50 L146.14,471.58 L148.11,471.67 L150.07,471.76 L152.04,471.87 L154.00,471.98 L155.97,472.10 L157.93,472.23 L159.90,472.37 L161.87,472.52 L163.83,472.68 L165.80,472.85 L167.77,473.04 L169.74,473.24 L171.71,473.45 L173.68,473.68 L175.65,473.93 L177.63,474.19 L179.60,474.47 L181.58,474.77 L183.56,475.09 L185.54,475.43 L187.52,475.79 L189.51,476.18 L191.49,476.59 L193.48,477.02 L195.48,477.48 L197.47,477.97 L199.47,478.49 L201.47,479.04 L203.48,479.62 L205.49,480.23 L207.51,480.87 L209.53,481.55 L211.55,482.26 L213.58,483.01 L215.61,483.80 L217.65,484.62 L219.70,485.48 L221.75,486.37 L223.80,487.31 L225.86,488.29 L227.93,489.30 L230.00,490.35 L232.07,491.45 L234.15,492.58 L236.24,493.75 L238.33,494.96 L240.42,496.21 L242.52,497.51 L244.62,498.84 L246.72,500.20 L248.83,501.60 L250.94,503.04 L253.06,504.52 L255.18,506.02 L257.30,507.56 L259.43,509.14 L261.56,510.74 L263.69,512.37 L265.83,514.03 L267.97,515.72 L270.11,517.44 L272.25,519.18 L274.32,521.02 L276.37,522.91 L278.43,524.81 L280.48,526.74 L282.53,528.69 L284.58,530.66 L286.64,532.65 L288.69,534.66 L290.74,536.69 L292.80,538.74 L294.85,540.80 L296.90,542.88 L298.96,544.98 L301.01,547.09 L303.06,549.22 L305.12,551.36 L307.17,553.52 L309.23,555.69 L311.28,557.88 L313.34,560.08 L315.39,562.29 L317.45,564.51 L319.50,566.74 L321.56,568.99 L323.61,571.25 L325.61,573.56 L327.57,575.92 L329.53,578.28 L331.49,580.65 L333.44,583.02 L335.40,585.39 L337.35,587.76 L339.30,590.13 L341.25,592.50 L343.20,594.87 L345.14,597.23 L347.07,599.58 L348.98,601.96 L350.88,604.33 L352.77,606.68 L354.67,609.03 L356.57,611.35 L358.46,613.66 L360.35,615.96 L362.25,618.23 L364.14,620.49 L366.03,622.72 L367.92,624.94 L369.81,627.13 L371.69,629.29 L373.58,631.43 L375.47,633.54 L377.35,635.63 L379.23,637.68 L381.12,639.70 L383.00,641.70 L384.88,643.66 L386.76,645.59 L388.64,647.48 L390.52,649.34 L392.40,651.16 L394.27,652.95 L396.07,654.80 L397.87,656.62 L399.67,658.41 L401.47,660.16 L403.28,661.88 L405.09,663.57 L406.91,665.23 L408.73,666.85 L410.55,668.45 L412.38,670.01 L414.22,671.55 L416.05,673.06 L417.89,674.53 L419.74,675.99 L421.59,677.41 L423.44,678.80 L425.30,680.17 L427.16,681.52 L428.98,682.89 L430.81,684.25 L432.65,685.58 L434.49,686.88 L436.33,688.16 L438.18,689.42 L440.04,690.65 L441.90,691.86 L443.76,693.05 L445.63,694.21 L447.50,695.35 L449.38,696.48 L451.27,697.55 L453.18,698.58 L455.08,699.60 L456.99,700.60 L458.90,701.58 L460.82,702.54 L462.73,703.48 L464.65,704.41 L466.57,705.32 L468.49,706.21 L470.42,707.08 L472.34,707.94 L474.27,708.78 L476.20,709.61 L478.13,710.42 L480.06,711.21 L482.00,711.96 L483.95,712.69 L485.90,713.40 L487.85,714.10 L489.80,714.79 L491.75,715.46 L493.70,716.12 L495.66,716.76 L497.61,717.40 L499.56,718.02 L501.51,718.62 L503.47,719.22 L505.42,719.80 L507.38,720.37 L509.33,720.93 L511.29,721.48 L513.25,722.01 L515.20,722.53 L517.16,723.04 L519.12,723.53 L521.08,724.01 L523.04,724.49 L525.00,724.95 L526.96,725.39 L528.92,725.82 L530.88,726.23 L532.85,726.62 L534.81,727.01 L536.77,727.38 L538.74,727.75 L540.70,728.10 L542.66,728.44 L544.63,728.78 L546.59,729.10 L548.56,729.42 L550.52,729.72 L552.48,730.02 L554.45,730.30 L556.41,730.58 L558.38,730.85 L560.34,731.11 L562.30,731.37 L564.27,731.61 L566.23,731.85 L568.20,732.08 L570.16,732.30 L572.12,732.51 L574.09,732.72 L576.05,732.92 L578.01,733.12 L579.98,733.30 L581.94,733.48 L583.91,733.66 L585.87,733.83 L587.83,733.99 L589.80,734.15 L591.76,734.30 L593.73,734.44 L595.69,734.58 L597.65,734.72 L599.62,734.85 L601.58,734.98 L603.54,735.10 L605.51,735.22 L607.47,735.33 L609.44,735.44 L611.40,735.54 L613.36,735.64 L615.33,735.74 L617.29,735.83 L619.25,735.92 L621.22,736.01 L623.18,736.09 L625.15,736.17 L627.11,736.25 L629.07,736.32 L631.04,736.39 L633.00,736.46 L634.96,736.52 L636.93,736.58 L638.89,736.64 L640.85,736.70 L642.82,736.76 L644.78,736.81 L646.74,736.86 L648.71,736.91 L650.67,736.95 L652.64,737.00 L654.60,737.04 L656.56,737.08 L658.53,737.12 L660.49,737.15 L662.45,737.19 L664.42,737.22 L666.38,737.25 L668.34,737.28 L670.31,737.31 L672.27,737.33 L674.23,737.36 L676.20,737.38" fill="none" stroke="#000" stroke-width="1.95" stroke-linejoin="round" stroke-dasharray="6.6 4.7"/>
<path d="M89.20,471.04 L91.16,471.05 L93.12,471.07 L95.09,471.08 L97.05,471.09 L99.01,471.11 L100.98,471.12 L102.94,471.14 L104.90,471.16 L106.86,471.18 L108.83,471.20 L110.79,471.23 L112.75,471.26 L114.72,471.28 L116.68,471.32 L118.64,471.35 L120.60,471.39 L122.57,471.42 L124.53,471.47 L126.49,471.51 L128.45,471.56 L130.42,471.62 L132.38,471.68 L134.34,471.74 L136.30,471.81 L138.26,471.88 L140.22,471.96 L142.19,472.05 L144.15,472.14 L146.11,472.24 L148.07,472.35 L150.03,472.47 L151.99,472.60 L153.95,472.73 L155.91,472.88 L157.87,473.04 L159.83,473.21 L161.79,473.39 L163.74,473.59 L165.70,473.80 L167.66,474.03 L169.62,474.27 L171.57,474.53 L173.53,474.81 L175.48,475.11 L177.43,475.43 L179.38,475.77 L181.34,476.14 L183.28,476.52 L185.23,476.93 L187.18,477.37 L189.13,477.84 L191.07,478.33 L193.01,478.86 L194.95,479.41 L196.90,479.96 L198.85,480.53 L200.80,481.14 L202.75,481.78 L204.70,482.45 L206.65,483.16 L208.60,483.91 L210.55,484.69 L212.50,485.51 L214.45,486.37 L216.40,487.27 L218.35,488.20 L220.30,489.18 L222.25,490.20 L224.21,491.26 L226.16,492.36 L228.11,493.50 L230.07,494.68 L232.02,495.91 L233.98,497.17 L235.94,498.48 L237.89,499.82 L239.85,501.21 L241.81,502.63 L243.76,504.09 L245.72,505.59 L247.68,507.13 L249.64,508.71 L251.60,510.32 L253.56,511.96 L255.52,513.64 L257.48,515.35 L259.45,517.09 L261.41,518.87 L263.37,520.67 L265.33,522.50 L267.30,524.36 L269.26,526.24 L271.23,528.15 L273.19,530.08 L275.16,532.03 L277.12,534.01 L279.09,536.01 L281.05,538.03 L283.02,540.07 L284.99,542.13 L286.95,544.21 L288.92,546.31 L290.89,548.42 L292.85,550.55 L294.82,552.70 L296.79,554.87 L298.76,557.05 L300.73,559.25 L302.69,561.46 L304.66,563.68 L306.63,565.92 L308.60,568.17 L310.57,570.44 L312.54,572.72 L314.50,575.01 L316.47,577.31 L318.44,579.62 L320.41,581.94 L322.38,584.27 L324.35,586.61 L326.32,588.96 L328.29,591.31 L330.26,593.66 L332.23,596.02 L334.20,598.37 L336.17,600.72 L338.14,603.07 L340.11,605.42 L342.07,607.76 L344.03,610.10 L345.99,612.42 L347.96,614.74 L349.92,617.04 L351.88,619.33 L353.84,621.61 L355.81,623.86 L357.77,626.10 L359.73,628.32 L361.70,630.52 L363.66,632.70 L365.62,634.86 L367.59,636.99 L369.55,639.10 L371.52,641.18 L373.48,643.23 L375.44,645.26 L377.41,647.25 L379.37,649.22 L381.34,651.15 L383.30,653.05 L385.27,654.92 L387.24,656.75 L389.20,658.55 L391.17,660.32 L393.13,662.05 L395.10,663.75 L397.07,665.41 L399.03,667.05 L401.00,668.65 L402.97,670.22 L404.93,671.76 L406.90,673.27 L408.87,674.74 L410.83,676.19 L412.80,677.61 L414.77,679.00 L416.73,680.37 L418.70,681.71 L420.67,683.01 L422.63,684.30 L424.60,685.56 L426.57,686.79 L428.54,688.00 L430.50,689.18 L432.47,690.34 L434.44,691.48 L436.40,692.59 L438.37,693.68 L440.34,694.75 L442.31,695.80 L444.27,696.83 L446.24,697.84 L448.21,698.83 L450.17,699.80 L452.14,700.75 L454.11,701.68 L456.07,702.59 L458.04,703.49 L460.01,704.37 L461.97,705.23 L463.94,706.08 L465.91,706.90 L467.87,707.72 L469.84,708.51 L471.81,709.29 L473.77,710.06 L475.74,710.81 L477.71,711.55 L479.67,712.27 L481.64,712.98 L483.60,713.69 L485.57,714.38 L487.53,715.06 L489.49,715.72 L491.46,716.37 L493.42,717.01 L495.38,717.63 L497.35,718.25 L499.31,718.85 L501.28,719.44 L503.24,720.01 L505.21,720.58 L507.17,721.13 L509.14,721.67 L511.10,722.20 L513.07,722.71 L515.03,723.21 L517.00,723.71 L518.97,724.19 L520.93,724.65 L522.90,725.11 L524.86,725.55 L526.83,725.99 L528.80,726.41 L530.76,726.82 L532.73,727.22 L534.69,727.61 L536.66,727.98 L538.63,728.35 L540.59,728.71 L542.56,729.06 L544.53,729.39 L546.49,729.72 L548.46,730.04 L550.43,730.35 L552.39,730.64 L554.36,730.93 L556.32,731.21 L558.29,731.49 L560.26,731.75 L562.22,732.00 L564.19,732.25 L566.16,732.49 L568.12,732.72 L570.09,732.95 L572.05,733.16 L574.02,733.37 L575.99,733.57 L577.95,733.77 L579.92,733.96 L581.88,734.14 L583.85,734.32 L585.82,734.49 L587.78,734.65 L589.75,734.81 L591.71,734.96 L593.68,735.11 L595.64,735.25 L597.61,735.39 L599.57,735.52 L601.54,735.65 L603.50,735.77 L605.47,735.89 L607.43,736.00 L609.40,736.11 L611.37,736.21 L613.33,736.32 L615.29,736.41 L617.26,736.51 L619.22,736.60 L621.19,736.68 L623.15,736.77 L625.12,736.85 L627.08,736.92 L629.05,737.00 L631.01,737.07 L632.98,737.14 L634.94,737.20 L636.91,737.27 L638.87,737.33 L640.83,737.38 L642.80,737.44 L644.76,737.49 L646.73,737.54 L648.69,737.59 L650.66,737.64 L652.62,737.68 L654.58,737.72 L656.55,737.76 L658.51,737.80 L660.48,737.84 L662.44,737.87 L664.41,737.91 L666.37,737.94 L668.33,737.97 L670.30,737.99 L672.26,738.02 L674.22,738.05 L676.19,738.07" fill="none" stroke="#000" stroke-width="1.95" stroke-linejoin="round" stroke-dasharray="12.5 5"/>
<path d="M89.20,470.32 L91.16,470.33 L93.13,470.34 L95.09,470.35 L97.05,470.36 L99.02,470.38 L100.98,470.39 L102.95,470.41 L104.91,470.42 L106.87,470.44 L108.84,470.46 L110.80,470.49 L112.76,470.51 L114.73,470.54 L116.69,470.56 L118.65,470.59 L120.62,470.63 L122.58,470.66 L124.54,470.70 L126.51,470.74 L128.47,470.79 L130.44,470.84 L132.40,470.89 L134.36,470.95 L136.33,471.01 L138.29,471.07 L140.26,471.15 L142.22,471.22 L144.19,471.31 L146.15,471.40 L148.12,471.50 L150.08,471.60 L152.04,471.72 L154.01,471.84 L155.98,471.97 L157.94,472.12 L159.91,472.27 L161.87,472.44 L163.84,472.61 L165.81,472.81 L167.77,473.01 L169.74,473.23 L171.71,473.47 L173.68,473.72 L175.64,473.99 L177.61,474.28 L179.58,474.59 L181.55,474.92 L183.52,475.27 L185.50,475.64 L187.47,476.04 L189.44,476.46 L191.41,476.91 L193.39,477.39 L195.36,477.90 L197.34,478.43 L199.32,479.00 L201.30,479.60 L203.28,480.23 L205.26,480.89 L207.24,481.59 L209.22,482.33 L211.21,483.10 L213.19,483.91 L215.18,484.76 L217.17,485.64 L219.16,486.57 L221.15,487.54 L223.14,488.54 L225.13,489.59 L227.13,490.68 L229.13,491.81 L231.12,492.98 L233.12,494.19 L235.12,495.44 L237.12,496.73 L239.12,498.07 L241.12,499.45 L243.11,500.87 L245.11,502.32 L247.11,503.81 L249.11,505.34 L251.11,506.91 L253.11,508.51 L255.11,510.14 L257.11,511.81 L259.11,513.51 L261.11,515.24 L263.12,517.00 L265.12,518.79 L267.12,520.60 L269.13,522.45 L271.13,524.31 L273.13,526.20 L275.14,528.12 L277.14,530.06 L279.15,532.02 L281.16,534.00 L283.16,536.00 L285.17,538.02 L287.17,540.06 L289.18,542.12 L291.19,544.20 L293.20,546.29 L295.20,548.41 L297.19,550.56 L299.16,552.74 L301.13,554.93 L303.10,557.14 L305.06,559.36 L307.03,561.60 L309.00,563.85 L310.97,566.12 L312.94,568.40 L314.90,570.69 L316.87,572.99 L318.84,575.30 L320.81,577.62 L322.77,579.96 L324.74,582.30 L326.70,584.65 L328.67,587.00 L330.63,589.36 L332.60,591.72 L334.56,594.08 L336.52,596.44 L338.49,598.79 L340.45,601.14 L342.41,603.49 L344.37,605.83 L346.33,608.16 L348.29,610.48 L350.25,612.79 L352.21,615.08 L354.16,617.37 L356.12,619.63 L358.08,621.88 L360.04,624.11 L361.99,626.32 L363.95,628.50 L365.90,630.67 L367.86,632.81 L369.81,634.93 L371.76,637.02 L373.71,639.09 L375.66,641.12 L377.62,643.13 L379.57,645.11 L381.51,647.06 L383.46,648.97 L385.41,650.85 L387.36,652.70 L389.30,654.51 L391.25,656.29 L393.16,658.08 L395.07,659.83 L396.98,661.55 L398.89,663.23 L400.81,664.89 L402.72,666.51 L404.64,668.10 L406.55,669.66 L408.47,671.19 L410.39,672.69 L412.31,674.16 L414.24,675.60 L416.16,677.02 L418.08,678.40 L420.01,679.76 L421.93,681.09 L423.86,682.39 L425.79,683.67 L427.72,684.93 L429.65,686.16 L431.58,687.36 L433.52,688.54 L435.45,689.70 L437.39,690.84 L439.32,691.95 L441.26,693.04 L443.20,694.11 L445.14,695.16 L447.08,696.19 L449.02,697.20 L450.96,698.19 L452.90,699.16 L454.84,700.11 L456.79,701.05 L458.73,701.96 L460.67,702.86 L462.62,703.74 L464.57,704.61 L466.51,705.45 L468.46,706.28 L470.41,707.10 L472.36,707.90 L474.30,708.68 L476.25,709.45 L478.20,710.21 L480.15,710.95 L482.11,711.67 L484.06,712.38 L486.01,713.08 L487.96,713.76 L489.92,714.43 L491.87,715.09 L493.82,715.74 L495.78,716.37 L497.73,716.99 L499.69,717.60 L501.64,718.19 L503.60,718.77 L505.55,719.34 L507.51,719.90 L509.46,720.45 L511.42,720.98 L513.38,721.50 L515.33,722.01 L517.29,722.51 L519.25,722.99 L521.21,723.46 L523.16,723.92 L525.12,724.37 L527.08,724.81 L529.04,725.23 L531.00,725.63 L532.96,726.03 L534.92,726.41 L536.89,726.78 L538.85,727.14 L540.81,727.49 L542.77,727.83 L544.73,728.16 L546.69,728.48 L548.65,728.80 L550.61,729.10 L552.58,729.39 L554.54,729.68 L556.50,729.95 L558.46,730.22 L560.42,730.48 L562.38,730.73 L564.35,730.97 L566.31,731.21 L568.27,731.43 L570.23,731.65 L572.19,731.87 L574.15,732.07 L576.12,732.27 L578.08,732.46 L580.04,732.65 L582.00,732.83 L583.96,733.00 L585.93,733.17 L587.89,733.33 L589.85,733.48 L591.81,733.63 L593.77,733.78 L595.74,733.92 L597.70,734.05 L599.66,734.18 L601.62,734.31 L603.59,734.43 L605.55,734.55 L607.51,734.66 L609.47,734.76 L611.43,734.87 L613.40,734.97 L615.36,735.06 L617.32,735.16 L619.28,735.25 L621.25,735.33 L623.21,735.41 L625.17,735.49 L627.13,735.57 L629.10,735.64 L631.06,735.71 L633.02,735.78 L634.99,735.84 L636.95,735.90 L638.91,735.96 L640.87,736.02 L642.84,736.07 L644.80,736.13 L646.76,736.18 L648.72,736.22 L650.69,736.27 L652.65,736.31 L654.61,736.35 L656.58,736.39 L658.54,736.43 L660.50,736.47 L662.46,736.50 L664.43,736.53 L666.39,736.56 L668.35,736.59 L670.32,736.62 L672.28,736.65 L674.24,736.67 L676.20,736.69" fill="none" stroke="#000" stroke-width="1.95" stroke-linejoin="round" stroke-dasharray="4.6 1.6"/>
<path d="M89.20,470.93 L91.16,470.94 L93.12,470.95 L95.09,470.96 L97.05,470.98 L99.01,470.99 L100.98,471.01 L102.94,471.02 L104.90,471.04 L106.87,471.06 L108.83,471.08 L110.79,471.11 L112.75,471.13 L114.72,471.16 L116.68,471.19 L118.64,471.22 L120.61,471.25 L122.57,471.29 L124.53,471.33 L126.49,471.38 L128.46,471.42 L130.42,471.48 L132.38,471.53 L134.34,471.59 L136.31,471.66 L138.27,471.73 L140.23,471.80 L142.19,471.88 L144.15,471.97 L146.12,472.07 L148.08,472.17 L150.04,472.28 L152.00,472.40 L153.96,472.53 L155.92,472.67 L157.89,472.82 L159.85,472.99 L161.81,473.16 L163.77,473.35 L165.73,473.55 L167.69,473.76 L169.65,473.99 L171.61,474.24 L173.57,474.51 L175.53,474.79 L177.49,475.09 L179.44,475.42 L181.40,475.76 L183.36,476.13 L185.32,476.52 L187.27,476.94 L189.23,477.38 L191.19,477.85 L193.14,478.35 L195.09,478.88 L197.05,479.44 L199.00,480.03 L200.96,480.65 L202.91,481.31 L204.86,482.00 L206.81,482.73 L208.76,483.50 L210.71,484.30 L212.66,485.14 L214.61,486.02 L216.55,486.94 L218.50,487.90 L220.45,488.90 L222.39,489.95 L224.33,491.03 L226.28,492.16 L228.22,493.32 L230.16,494.53 L232.10,495.78 L234.05,497.07 L235.99,498.40 L237.92,499.77 L239.86,501.19 L241.80,502.64 L243.74,504.12 L245.68,505.65 L247.61,507.21 L249.55,508.81 L251.49,510.45 L253.42,512.12 L255.36,513.83 L257.29,515.57 L259.22,517.34 L261.16,519.14 L263.09,520.97 L265.02,522.83 L266.96,524.71 L268.89,526.62 L270.82,528.56 L272.75,530.52 L274.69,532.50 L276.62,534.51 L278.55,536.54 L280.48,538.58 L282.41,540.65 L284.34,542.74 L286.27,544.85 L288.20,546.98 L290.13,549.12 L292.06,551.28 L294.00,553.44 L295.96,555.61 L297.92,557.80 L299.88,560.00 L301.84,562.21 L303.80,564.44 L305.76,566.68 L307.72,568.93 L309.68,571.20 L311.64,573.48 L313.60,575.78 L315.56,578.08 L317.52,580.40 L319.48,582.72 L321.44,585.06 L323.40,587.40 L325.37,589.75 L327.33,592.11 L329.29,594.47 L331.25,596.83 L333.22,599.19 L335.18,601.54 L337.15,603.90 L339.11,606.25 L341.08,608.59 L343.04,610.93 L345.01,613.26 L346.97,615.58 L348.94,617.88 L350.91,620.17 L352.87,622.45 L354.84,624.71 L356.81,626.95 L358.78,629.17 L360.75,631.38 L362.72,633.56 L364.69,635.72 L366.66,637.85 L368.63,639.97 L370.60,642.05 L372.57,644.11 L374.54,646.14 L376.52,648.14 L378.49,650.11 L380.46,652.05 L382.44,653.96 L384.41,655.83 L386.39,657.67 L388.36,659.48 L390.36,661.23 L392.36,662.94 L394.35,664.62 L396.35,666.27 L398.34,667.89 L400.34,669.47 L402.33,671.02 L404.32,672.54 L406.32,674.04 L408.31,675.50 L410.30,676.93 L412.29,678.33 L414.28,679.70 L416.27,681.05 L418.25,682.37 L420.24,683.66 L422.23,684.93 L424.21,686.17 L426.20,687.38 L428.18,688.58 L430.17,689.74 L432.15,690.89 L434.13,692.01 L436.12,693.10 L438.10,694.18 L440.08,695.23 L442.06,696.27 L444.04,697.28 L446.02,698.27 L448.00,699.25 L449.98,700.20 L451.95,701.14 L453.93,702.05 L455.91,702.95 L457.89,703.83 L459.86,704.70 L461.84,705.54 L463.81,706.38 L465.79,707.19 L467.76,707.99 L469.74,708.77 L471.71,709.54 L473.69,710.29 L475.66,711.03 L477.63,711.75 L479.60,712.46 L481.58,713.16 L483.55,713.85 L485.52,714.52 L487.49,715.17 L489.46,715.82 L491.43,716.45 L493.40,717.07 L495.37,717.68 L497.34,718.28 L499.31,718.86 L501.28,719.43 L503.25,719.99 L505.22,720.54 L507.19,721.08 L509.16,721.60 L511.12,722.12 L513.09,722.62 L515.06,723.10 L517.03,723.58 L519.00,724.05 L520.97,724.50 L522.93,724.94 L524.90,725.38 L526.87,725.80 L528.84,726.21 L530.80,726.61 L532.77,727.01 L534.74,727.39 L536.70,727.76 L538.67,728.12 L540.63,728.48 L542.60,728.82 L544.57,729.15 L546.53,729.47 L548.50,729.78 L550.46,730.09 L552.43,730.38 L554.40,730.67 L556.36,730.94 L558.33,731.21 L560.29,731.47 L562.26,731.72 L564.22,731.96 L566.19,732.20 L568.16,732.43 L570.12,732.65 L572.09,732.86 L574.05,733.07 L576.02,733.27 L577.98,733.46 L579.95,733.64 L581.91,733.82 L583.88,734.00 L585.84,734.16 L587.81,734.33 L589.77,734.48 L591.74,734.63 L593.70,734.78 L595.67,734.92 L597.63,735.05 L599.60,735.18 L601.56,735.31 L603.53,735.43 L605.49,735.54 L607.45,735.66 L609.42,735.76 L611.38,735.87 L613.35,735.97 L615.31,736.06 L617.28,736.16 L619.24,736.24 L621.20,736.33 L623.17,736.41 L625.13,736.49 L627.10,736.57 L629.06,736.64 L631.03,736.71 L632.99,736.78 L634.95,736.84 L636.92,736.90 L638.88,736.96 L640.85,737.02 L642.81,737.07 L644.77,737.12 L646.74,737.17 L648.70,737.22 L650.66,737.27 L652.63,737.31 L654.59,737.35 L656.56,737.39 L658.52,737.43 L660.48,737.47 L662.45,737.50 L664.41,737.53 L666.37,737.56 L668.34,737.59 L670.30,737.62 L672.27,737.65 L674.23,737.67 L676.19,737.69" fill="none" stroke="#000" stroke-width="1.6" stroke-linejoin="round" stroke-dasharray="1.4 1.55"/>
<path d="M89.20,470.63 L91.16,470.64 L93.13,470.65 L95.09,470.66 L97.05,470.67 L99.02,470.69 L100.98,470.70 L102.94,470.72 L104.91,470.74 L106.87,470.76 L108.83,470.78 L110.80,470.80 L112.76,470.82 L114.72,470.85 L116.68,470.88 L118.65,470.91 L120.61,470.94 L122.57,470.98 L124.54,471.02 L126.50,471.06 L128.46,471.11 L130.43,471.16 L132.39,471.22 L134.35,471.27 L136.32,471.34 L138.28,471.41 L140.24,471.48 L142.21,471.56 L144.17,471.65 L146.13,471.74 L148.10,471.85 L150.06,471.96 L152.02,472.07 L153.99,472.20 L155.95,472.34 L157.91,472.49 L159.88,472.64 L161.84,472.82 L163.80,473.00 L165.77,473.20 L167.73,473.41 L169.69,473.64 L171.65,473.88 L173.62,474.14 L175.58,474.42 L177.54,474.72 L179.51,475.04 L181.47,475.38 L183.43,475.74 L185.40,476.12 L187.36,476.54 L189.32,476.97 L191.29,477.43 L193.25,477.93 L195.21,478.45 L197.18,479.00 L199.14,479.58 L201.10,480.19 L203.07,480.84 L205.03,481.53 L206.99,482.24 L208.96,483.00 L210.92,483.79 L212.88,484.62 L214.85,485.49 L216.81,486.40 L218.77,487.35 L220.74,488.34 L222.70,489.37 L224.66,490.44 L226.62,491.55 L228.59,492.71 L230.55,493.90 L232.51,495.14 L234.48,496.42 L236.44,497.73 L238.40,499.09 L240.37,500.49 L242.33,501.92 L244.29,503.40 L246.26,504.91 L248.22,506.45 L250.18,508.04 L252.15,509.66 L254.11,511.31 L256.07,513.00 L258.04,514.72 L260.00,516.48 L261.96,518.26 L263.93,520.07 L265.89,521.91 L267.85,523.78 L269.82,525.67 L271.78,527.59 L273.74,529.53 L275.71,531.49 L277.67,533.47 L279.63,535.48 L281.59,537.51 L283.56,539.56 L285.52,541.62 L287.48,543.71 L289.45,545.82 L291.41,547.94 L293.37,550.08 L295.34,552.24 L297.30,554.41 L299.26,556.60 L301.23,558.80 L303.19,561.02 L305.15,563.25 L307.12,565.50 L309.08,567.76 L311.04,570.03 L313.01,572.31 L314.97,574.61 L316.93,576.92 L318.90,579.24 L320.86,581.56 L322.82,583.90 L324.79,586.25 L326.75,588.60 L328.71,590.96 L330.67,593.32 L332.64,595.68 L334.60,598.03 L336.56,600.39 L338.53,602.75 L340.49,605.10 L342.45,607.44 L344.42,609.77 L346.38,612.10 L348.34,614.41 L350.31,616.71 L352.27,619.00 L354.23,621.27 L356.20,623.52 L358.16,625.76 L360.12,627.98 L362.09,630.17 L364.05,632.35 L366.01,634.50 L367.98,636.63 L369.94,638.73 L371.90,640.81 L373.87,642.86 L375.83,644.88 L377.79,646.87 L379.76,648.83 L381.72,650.76 L383.68,652.66 L385.64,654.52 L387.61,656.35 L389.57,658.14 L391.53,659.91 L393.50,661.63 L395.46,663.33 L397.42,664.99 L399.39,666.62 L401.35,668.21 L403.31,669.78 L405.28,671.31 L407.24,672.82 L409.20,674.29 L411.17,675.74 L413.13,677.15 L415.09,678.54 L417.06,679.90 L419.02,681.23 L420.98,682.54 L422.95,683.82 L424.91,685.07 L426.87,686.30 L428.84,687.50 L430.80,688.68 L432.76,689.84 L434.73,690.97 L436.69,692.08 L438.65,693.17 L440.61,694.24 L442.58,695.29 L444.54,696.31 L446.50,697.32 L448.47,698.30 L450.43,699.27 L452.39,700.22 L454.36,701.15 L456.32,702.06 L458.28,702.95 L460.25,703.83 L462.21,704.69 L464.17,705.53 L466.14,706.36 L468.10,707.17 L470.06,707.96 L472.03,708.74 L473.99,709.50 L475.95,710.25 L477.92,710.99 L479.88,711.71 L481.84,712.41 L483.81,713.11 L485.77,713.79 L487.73,714.45 L489.69,715.10 L491.66,715.75 L493.62,716.37 L495.58,716.99 L497.55,717.59 L499.51,718.18 L501.47,718.76 L503.44,719.33 L505.40,719.89 L507.36,720.43 L509.33,720.96 L511.29,721.48 L513.25,721.99 L515.22,722.48 L517.18,722.96 L519.14,723.44 L521.11,723.90 L523.07,724.34 L525.03,724.78 L527.00,725.21 L528.96,725.62 L530.92,726.03 L532.89,726.42 L534.85,726.80 L536.81,727.17 L538.78,727.53 L540.74,727.88 L542.70,728.23 L544.66,728.56 L546.63,728.88 L548.59,729.19 L550.55,729.49 L552.52,729.79 L554.48,730.07 L556.44,730.35 L558.41,730.62 L560.37,730.87 L562.33,731.13 L564.30,731.37 L566.26,731.60 L568.22,731.83 L570.19,732.05 L572.15,732.26 L574.11,732.47 L576.08,732.67 L578.04,732.86 L580.00,733.05 L581.97,733.23 L583.93,733.40 L585.89,733.57 L587.86,733.73 L589.82,733.88 L591.78,734.03 L593.75,734.18 L595.71,734.32 L597.67,734.45 L599.63,734.58 L601.60,734.71 L603.56,734.83 L605.52,734.94 L607.49,735.06 L609.45,735.16 L611.41,735.27 L613.38,735.37 L615.34,735.46 L617.30,735.56 L619.27,735.64 L621.23,735.73 L623.19,735.81 L625.16,735.89 L627.12,735.97 L629.08,736.04 L631.05,736.11 L633.01,736.18 L634.97,736.24 L636.94,736.30 L638.90,736.36 L640.86,736.42 L642.83,736.47 L644.79,736.53 L646.75,736.57 L648.72,736.62 L650.68,736.67 L652.64,736.71 L654.60,736.75 L656.57,736.79 L658.53,736.83 L660.49,736.87 L662.46,736.90 L664.42,736.93 L666.38,736.96 L668.35,736.99 L670.31,737.02 L672.27,737.05 L674.24,737.07 L676.20,737.09" fill="none" stroke="#000" stroke-width="1.95" stroke-linejoin="round"/>
<text x="148.9" y="13.9" font-size="19.12" fill="#595959">OC curves vs CV for CV<tspan font-size="13.3" dy="2.8">AQL</tspan><tspan dy="-2.8">=0.05 and CV</tspan><tspan font-size="13.3" dy="2.8">LTPD</tspan><tspan dy="-2.8">=0.07</tspan></text>
<text x="148.9" y="451.0" font-size="19.12" fill="#595959">OC curves vs CV for CV<tspan font-size="13.3" dy="2.8">AQL</tspan><tspan dy="-2.8">=0.05 and CV</tspan><tspan font-size="13.3" dy="2.8">LTPD</tspan><tspan dy="-2.8">=0.07</tspan></text>
<text transform="translate(3.9,99.0) rotate(90)" fill="#000">Acceptance probability</text>
<text transform="translate(4.9,539.7) rotate(90)" fill="#000">Acceptance probability</text>
<text x="386.2" y="369" fill="#000">CV</text>
<text x="394.4" y="809.2" fill="#000">CV</text>
<line x1="61.9" y1="383.6" x2="103.90" y2="383.6" stroke="#000" stroke-width="2.0"/>
<text x="109.2" y="388.9" fill="#595959">m=2</text>
<line x1="169.0" y1="383.6" x2="208.60" y2="383.6" stroke="#000" stroke-width="1.6" stroke-dasharray="1.3 1.65"/>
<text x="215.4" y="388.9" fill="#595959">m=3</text>
<line x1="275.09999999999997" y1="383.6" x2="316.90" y2="383.6" stroke="#000" stroke-width="2.0" stroke-dasharray="4.6 1.6"/>
<text x="322.3" y="388.9" fill="#595959">single</text>
<line x1="392" y1="383.6" x2="431.90" y2="383.6" stroke="#000" stroke-width="2.0" stroke-dasharray="6.5 4.2"/>
<text x="439.3" y="388.9" fill="#595959">two stage</text>
<line x1="536.2" y1="383.6" x2="578.20" y2="383.6" stroke="#000" stroke-width="2.0" stroke-dasharray="12.5 5.1"/>
<text x="582.8" y="388.9" fill="#595959">repetitive</text>
<line x1="49.6" y1="826.6" x2="91.60" y2="826.6" stroke="#000" stroke-width="2.0"/>
<text x="96.5" y="831.9" fill="#595959">m=2</text>
<line x1="159.8" y1="826.6" x2="199.40" y2="826.6" stroke="#000" stroke-width="1.6" stroke-dasharray="1.3 1.65"/>
<text x="206.5" y="831.9" fill="#595959">m=3</text>
<line x1="269.8" y1="826.6" x2="311.60" y2="826.6" stroke="#000" stroke-width="2.0" stroke-dasharray="4.6 1.6"/>
<text x="317.5" y="831.9" fill="#595959">single</text>
<line x1="391" y1="826.6" x2="430.90" y2="826.6" stroke="#000" stroke-width="2.0" stroke-dasharray="6.5 4.2"/>
<text x="437.9" y="831.9" fill="#595959">two stage</text>
<line x1="538.6" y1="826.6" x2="580.60" y2="826.6" stroke="#000" stroke-width="2.0" stroke-dasharray="12.5 5.1"/>
<text x="585.9" y="831.9" fill="#595959">repetitive</text>
<text x="184.4" y="417.5" fill="#000">(a). The OC curves for risks,</text><text transform="translate(412.5,417.5) scale(1.28,1)" font-size="23" fill="#000" font-style="italic">α</text><text x="434.8" y="417.5" fill="#000">= 0.05 and</text><text transform="translate(524.0,417.5) scale(1.18,1)" font-size="24" fill="#000" font-style="italic">β</text><text x="541.0" y="417.5" fill="#000">= 0.1</text>
<text x="186.1" y="860.4" fill="#000">(b).The OC curves for risks,</text><text transform="translate(410.5,860.4) scale(1.28,1)" font-size="23" fill="#000" font-style="italic">α</text><text x="432.8" y="860.4" fill="#000">= 0.1 and</text><text transform="translate(513.0,860.4) scale(1.18,1)" font-size="24" fill="#000" font-style="italic">β</text><text x="529.5" y="860.4" fill="#000">= 0.05</text>
</svg>
</body></html>
